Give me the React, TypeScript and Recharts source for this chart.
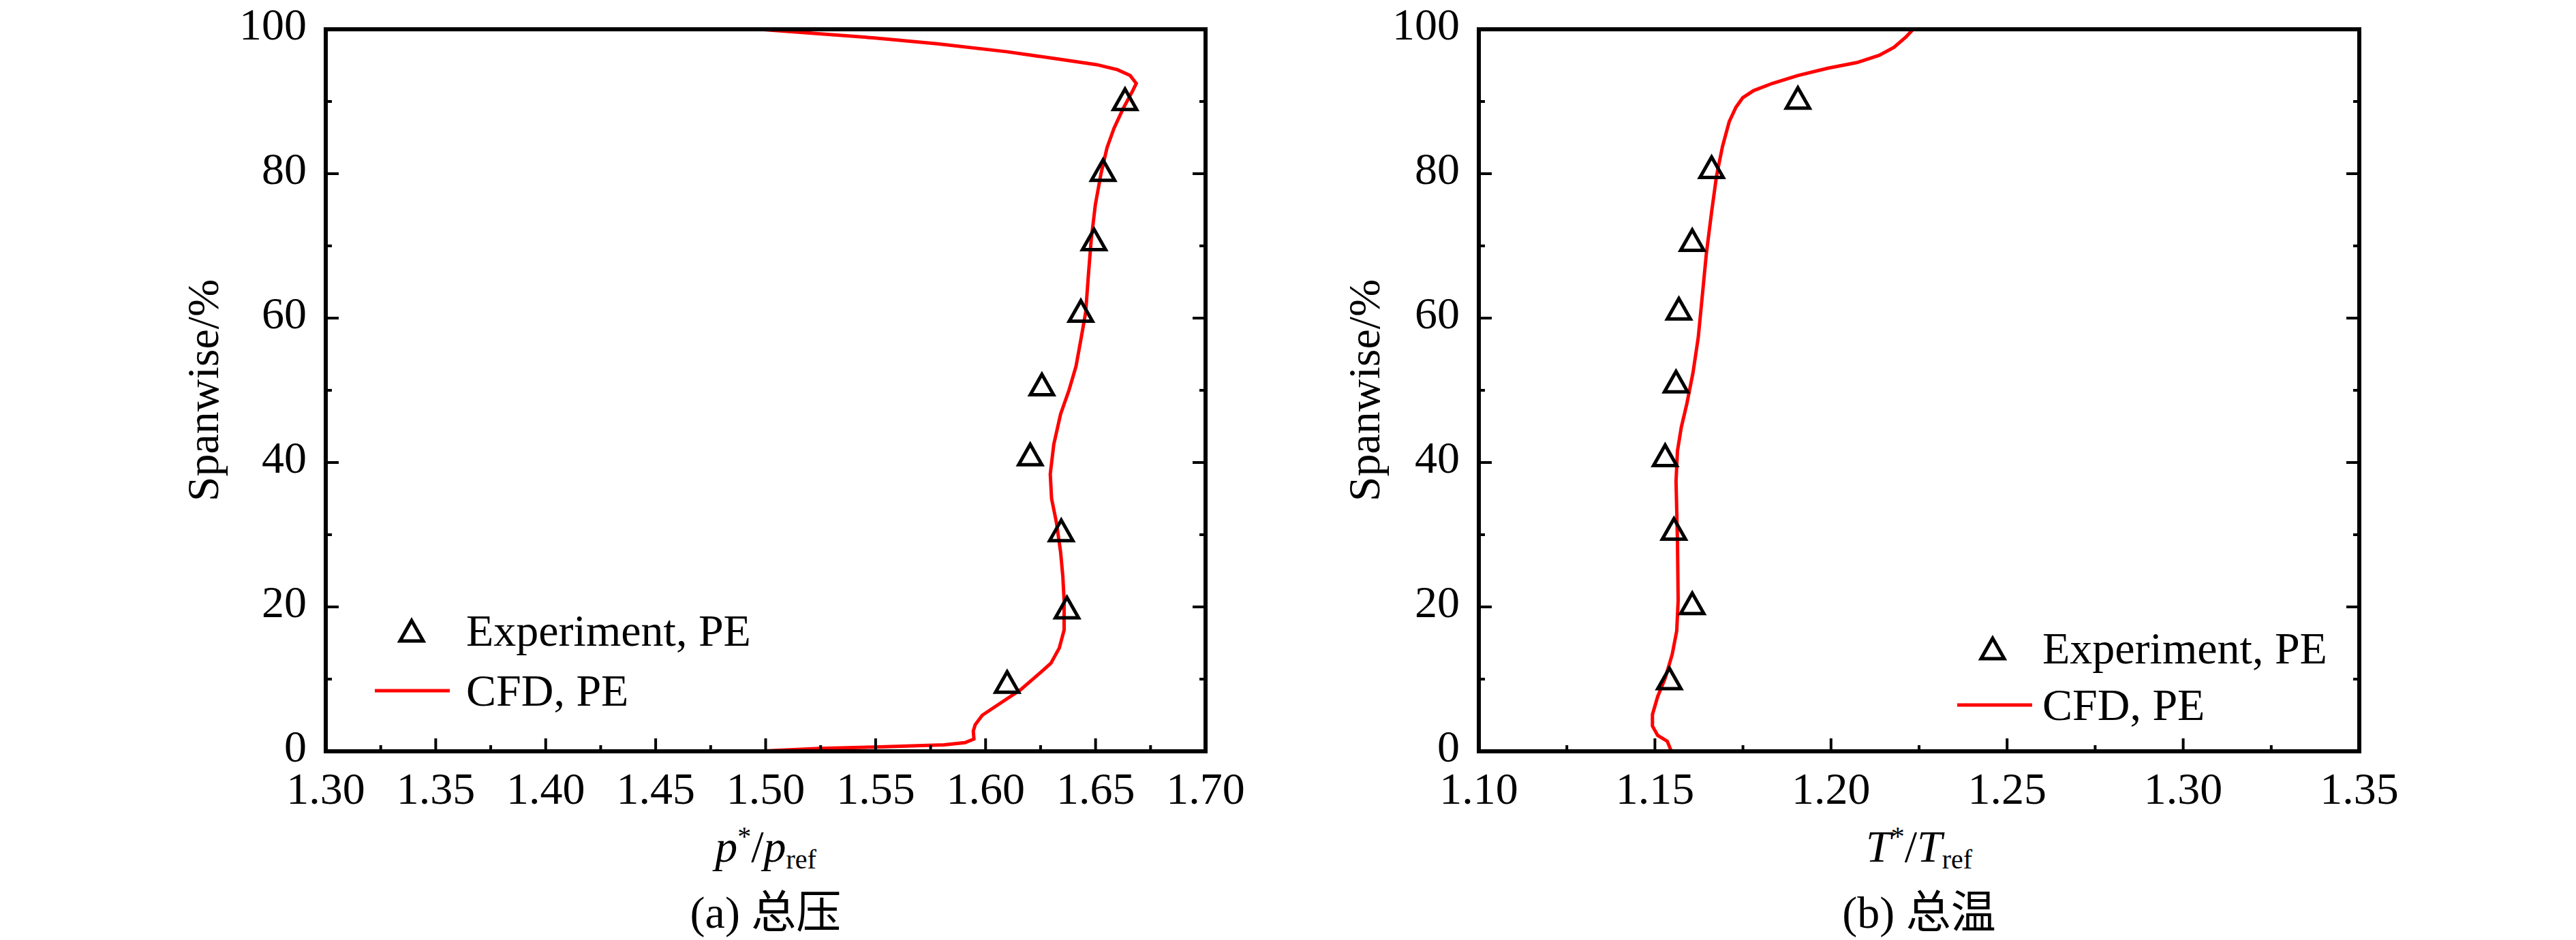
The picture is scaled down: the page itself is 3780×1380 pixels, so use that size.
import { ComposedChart, Line, Scatter, XAxis, YAxis, Legend, Label } from 'recharts';

const SERIF = 'Liberation Serif, Tinos, DejaVu Serif, serif';
const CAPTION_FONT = 'Liberation Serif, Noto Sans CJK SC, serif';
const RED = '#ff0000';
const INK = '#000000';
const FS = 66;
const MAJOR_LEN = 19;
const MINOR_LEN = 9;
const X_GAP = 77; // axis line -> tick label baseline
const Y_GAP = 28; // axis line -> tick label right edge

// spanwise axis, shared by both panels
const spanTicks = [0, 20, 40, 60, 80, 100];
const spanMinor = [10, 30, 50, 70, 90];

// (a) total pressure
const pTicks = [1.3, 1.35, 1.4, 1.45, 1.5, 1.55, 1.6, 1.65, 1.7];
const pMinor = [1.325, 1.375, 1.425, 1.475, 1.525, 1.575, 1.625, 1.675];
const pExpX = [1.6634, 1.6534, 1.6493, 1.6433, 1.6256, 1.6203, 1.6344, 1.637, 1.6098];
const pExpY = [90.3, 80.5, 70.9, 61.0, 50.8, 41.1, 30.6, 19.9, 9.6];
const pCfdX = [
  1.497, 1.5496, 1.578, 1.6095, 1.6348, 1.6505, 1.66, 1.6657, 1.6685, 1.6669, 1.6625, 1.6584,
  1.6552, 1.6524, 1.6499, 1.648, 1.6467, 1.6455, 1.6436, 1.6411, 1.6379, 1.6341, 1.631, 1.6294,
  1.63, 1.6322, 1.6341, 1.6351, 1.6357, 1.6357, 1.6335, 1.6297, 1.6253, 1.6158, 1.6064, 1.5985,
  1.5953, 1.5944, 1.5947, 1.5906, 1.5811, 1.5496, 1.5244, 1.496,
];
const pCfdY = [
  100, 98.8, 98.0, 96.9, 95.8, 95.1, 94.4, 93.6, 92.5, 91.5, 89.0, 86.3,
  83.6, 79.9, 75.7, 70.8, 65.8, 60.8, 57.5, 53.3, 50.0, 46.7, 42.5, 38.4,
  35.0, 31.7, 27.6, 24.3, 20.9, 16.8, 14.3, 12.2, 11.0, 8.5, 6.6, 5.0,
  3.7, 2.8, 1.7, 1.2, 0.9, 0.6, 0.4, 0,
];

// (b) total temperature
const tTicks = [1.1, 1.15, 1.2, 1.25, 1.3, 1.35];
const tMinor = [1.125, 1.175, 1.225, 1.275, 1.325];
const tExpX = [1.1906, 1.1661, 1.1606, 1.1568, 1.156, 1.1529, 1.1554, 1.1606, 1.1541];
const tExpY = [90.5, 80.9, 70.8, 61.3, 51.2, 41.0, 30.8, 20.5, 10.1];
const tCfdX = [
  1.2233, 1.2212, 1.2179, 1.2137, 1.2074, 1.199, 1.1906, 1.1833, 1.178, 1.1749, 1.173, 1.1711,
  1.1692, 1.1675, 1.1661, 1.1646, 1.1633, 1.1623, 1.1608, 1.1591, 1.1575, 1.1564, 1.156, 1.1564,
  1.1566, 1.1562, 1.1549, 1.1529, 1.1508, 1.1493, 1.1493, 1.1508, 1.1535, 1.1545,
];
const tCfdY = [
  100, 98.9, 97.5, 96.4, 95.4, 94.6, 93.6, 92.5, 91.5, 90.5, 89.2, 87.2,
  83.8, 79.7, 74.7, 68.9, 62.3, 57.3, 52.4, 48.2, 44.9, 41.6, 37.4, 29.2,
  20.9, 16.7, 13.4, 10.1, 7.6, 5.1, 3.5, 2.2, 1.4, 0.2,
];

const zip = (xs: number[], ys: number[]) => xs.map((x, i) => ({ x, y: ys[i] }));
const isMajor = (v: number, majors: number[]) => majors.some((m) => Math.abs(m - v) < 1e-6);

const textStyle = { fontFamily: SERIF, fontSize: FS, fill: INK };

function trianglePath(cx: number, cy: number) {
  const hw = 17;
  const hh = 15;
  return `${cx},${cy - hh} ${cx - hw},${cy + hh} ${cx + hw},${cy + hh}`;
}

function TriangleDot(props: any) {
  const { cx, cy } = props;
  if (cx == null || cy == null) return null;
  return <polygon points={trianglePath(cx, cy)} fill="none" stroke={INK} strokeWidth={5} />;
}

function makeTick(side: 'bottom' | 'top' | 'left' | 'right', majors: number[], digits: number) {
  return (props: any) => {
    const { x, y, payload } = props;
    const v = payload.value as number;
    const len = isMajor(v, majors) ? MAJOR_LEN : MINOR_LEN;
    let line;
    let label = null;
    if (side === 'bottom') {
      const ay = y - X_GAP;
      line = <line x1={x} x2={x} y1={ay} y2={ay - len} stroke={INK} strokeWidth={4} />;
      if (isMajor(v, majors)) {
        label = (
          <text x={x} y={y} textAnchor="middle" style={textStyle}>
            {v.toFixed(digits)}
          </text>
        );
      }
    } else if (side === 'left') {
      const ax = x + Y_GAP;
      line = <line x1={ax} x2={ax + len} y1={y} y2={y} stroke={INK} strokeWidth={4} />;
      if (isMajor(v, majors)) {
        label = (
          <text x={x} y={y + 15} textAnchor="end" style={textStyle}>
            {v.toFixed(digits)}
          </text>
        );
      }
    } else if (side === 'top') {
      line = <line x1={x} x2={x} y1={y} y2={y + len} stroke={INK} strokeWidth={4} />;
    } else {
      line = <line x1={x} x2={x - len} y1={y} y2={y} stroke={INK} strokeWidth={4} />;
    }
    return (
      <g>
        {line}
        {label}
      </g>
    );
  };
}

const axisLine = { stroke: INK, strokeWidth: 6, strokeLinecap: 'square' as const };

interface PanelProps {
  left: number;
  width: number;
  plotLeft: number;
  plotRight: number;
  titleGap: number;
  xTicks: number[];
  xMinor: number[];
  exp: { x: number; y: number }[];
  cfd: { x: number; y: number }[];
  sym: string;
  caption: string;
  legend: { triX: number; row1: number; row2: number; textX: number; lineX1: number; lineX2: number };
}

const PLOT_TOP = 43;
const PLOT_BOTTOM = 1103;
const HEIGHT = 1380;
const Y_AXIS_W = 150;
const X_AXIS_H = 100;
const EDGE = 10;

function Panel({
  left,
  width,
  plotLeft,
  plotRight,
  titleGap,
  xTicks,
  xMinor,
  exp,
  cfd,
  sym,
  caption,
  legend,
}: PanelProps) {
  const domain: [number, number] = [xTicks[0], xTicks[xTicks.length - 1]];
  const allX = [...xTicks, ...xMinor].sort((a, b) => a - b);
  const allY = [...spanTicks, ...spanMinor].sort((a, b) => a - b);
  const margin = {
    top: PLOT_TOP - EDGE,
    bottom: HEIGHT - PLOT_BOTTOM - X_AXIS_H,
    left: plotLeft - Y_AXIS_W,
    right: width - plotRight - EDGE,
  };
  const lgLeft = legend.lineX1 - 20;
  const lgTop = legend.row1 - 60;

  const renderLegend = () => (
    <svg width={760} height={200} style={{ display: 'block', overflow: 'visible' }}>
      <polygon
        points={trianglePath(legend.triX - lgLeft, legend.row1 - lgTop)}
        fill="none"
        stroke={INK}
        strokeWidth={5}
      />
      <text x={legend.textX - lgLeft} y={legend.row1 - lgTop + 22} style={textStyle}>
        Experiment, PE
      </text>
      <line
        x1={legend.lineX1 - lgLeft}
        x2={legend.lineX2 - lgLeft}
        y1={legend.row2 - lgTop}
        y2={legend.row2 - lgTop}
        stroke={RED}
        strokeWidth={5}
      />
      <text x={legend.textX - lgLeft} y={legend.row2 - lgTop + 22} style={textStyle}>
        CFD, PE
      </text>
    </svg>
  );

  return (
    <div style={{ position: 'absolute', left, top: 0 }}>
      <ComposedChart width={width} height={HEIGHT} margin={margin}>
        <XAxis
          xAxisId={0}
          dataKey="x"
          type="number"
          domain={domain}
          allowDataOverflow
          ticks={allX}
          interval={0}
          height={X_AXIS_H}
          tickSize={0}
          tickMargin={X_GAP}
          tickLine={false}
          axisLine={axisLine}
          tick={makeTick('bottom', xTicks, 2)}
        >
          <Label
            content={(p: any) => {
              const vb = p.viewBox;
              const cx = vb.x + vb.width / 2;
              return (
                <g>
                  <text x={cx} y={vb.y + 162} textAnchor="middle" style={textStyle}>
                    <tspan fontStyle="italic">{sym}</tspan>
                    <tspan fontSize={40} dy={-24}>*</tspan>
                    <tspan dy={24}>/</tspan>
                    <tspan fontStyle="italic">{sym}</tspan>
                    <tspan fontSize={40} dy={10}>ref</tspan>
                  </text>
                  <text
                    x={cx}
                    y={vb.y + 259}
                    textAnchor="middle"
                    style={{ ...textStyle, fontFamily: CAPTION_FONT }}
                  >
                    {caption}
                  </text>
                </g>
              );
            }}
          />
        </XAxis>
        <XAxis
          xAxisId="top"
          orientation="top"
          type="number"
          domain={domain}
          allowDataOverflow
          ticks={allX}
          interval={0}
          height={EDGE}
          tickSize={0}
          tickMargin={0}
          tickLine={false}
          axisLine={axisLine}
          tick={makeTick('top', xTicks, 2)}
        />
        <YAxis
          yAxisId={0}
          dataKey="y"
          type="number"
          domain={[0, 100]}
          allowDataOverflow
          ticks={allY}
          interval={0}
          width={Y_AXIS_W}
          tickSize={0}
          tickMargin={Y_GAP}
          tickLine={false}
          axisLine={axisLine}
          tick={makeTick('left', spanTicks, 0)}
        >
          <Label
            content={(p: any) => {
              const vb = p.viewBox;
              const bx = vb.x + vb.width - titleGap;
              const cy = vb.y + vb.height / 2;
              return (
                <text
                  x={bx}
                  y={cy}
                  transform={`rotate(-90 ${bx} ${cy})`}
                  textAnchor="middle"
                  style={textStyle}
                >
                  Spanwise/%
                </text>
              );
            }}
          />
        </YAxis>
        <YAxis
          yAxisId="right"
          orientation="right"
          type="number"
          domain={[0, 100]}
          allowDataOverflow
          ticks={allY}
          interval={0}
          width={EDGE}
          tickSize={0}
          tickMargin={0}
          tickLine={false}
          axisLine={axisLine}
          tick={makeTick('right', spanTicks, 0)}
        />
        <Legend
          layout="horizontal"
          verticalAlign="middle"
          align="center"
          content={renderLegend}
          wrapperStyle={{ position: 'absolute', left: lgLeft, top: lgTop, width: 760, height: 200 }}
        />
        <Line
          data={cfd}
          dataKey="y"
          type="linear"
          stroke={RED}
          strokeWidth={5}
          dot={false}
          activeDot={false}
          name="CFD, PE"
          isAnimationActive={false}
        />
        <Scatter
          data={exp}
          dataKey="y"
          shape={TriangleDot}
          name="Experiment, PE"
          isAnimationActive={false}
        />
      </ComposedChart>
    </div>
  );
}

export default function App() {
  return (
    <div style={{ position: 'absolute', left: 0, top: 0, width: 3780, height: 1380, background: '#fff' }}>
      <Panel
        left={0}
        width={1900}
        plotLeft={478}
        plotRight={1769}
        titleGap={158}
        xTicks={pTicks}
        xMinor={pMinor}
        exp={zip(pExpX, pExpY)}
        cfd={zip(pCfdX, pCfdY)}
        sym="p"
        caption="(a) 总压"
        legend={{ triX: 604, row1: 926, row2: 1014, textX: 684, lineX1: 550, lineX2: 660 }}
      />
      <Panel
        left={1900}
        width={1880}
        plotLeft={270}
        plotRight={1562}
        titleGap={146}
        xTicks={tTicks}
        xMinor={tMinor}
        exp={zip(tExpX, tExpY)}
        cfd={zip(tCfdX, tCfdY)}
        sym="T"
        caption="(b) 总温"
        legend={{ triX: 1024, row1: 952, row2: 1035, textX: 1097, lineX1: 972, lineX2: 1082 }}
      />
    </div>
  );
}
